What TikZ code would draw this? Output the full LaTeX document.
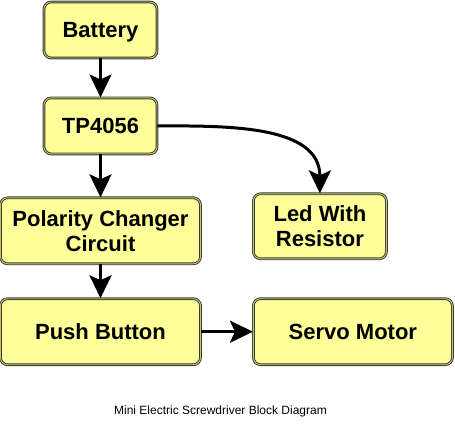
\documentclass[tikz,border=0pt]{standalone}
\usepackage{fontspec}
\setmainfont{Liberation Sans}
\usetikzlibrary{arrows.meta, calc, positioning}
\definecolor{boxfill}{HTML}{FFFF99}
\definecolor{boxline}{HTML}{36393D}
\definecolor{boxdouble}{HTML}{C8C860}

\begin{document}
\begin{tikzpicture}[auto,
node distance = 39pt and 52pt,
every node/.style = {draw=boxline, double=boxdouble, double distance=0.9pt,
                     line width=0.9pt, fill=boxfill, rounded corners=2.5mm,
                     inner sep=0pt, align=center, text depth=0pt,
                     font=\fontsize{22}{25}\selectfont\bfseries},
small/.style  = {minimum width=113pt, minimum height=56pt},
wide/.style   = {minimum width=200pt, minimum height=66pt},
arr/.style    = {draw, line width=3pt,
                 -{Stealth[length=23pt, width=22pt, inset=5pt]}},
                    ]
\useasboundingbox (0,0) rectangle (455pt,-431pt);
%-------
\node (battery)  [small] at (100.5pt,-30pt)     {Battery};
\node (tp)       [small, below=of battery]      {TP4056};
\node (polarity) [wide, below=43pt of tp]       {Polarity Changer\\Circuit};
\node (push)     [wide, below=34pt of polarity] {Push Button};
%
\node (servo)    [wide, minimum width=199pt, right=of push] {Servo Motor};
\node (led)      [above=of servo.north west, anchor=south west,
                  minimum width=133pt, minimum height=65pt]  {Led With\\Resistor};
%
\node[draw=none, fill=none, font=\fontsize{12}{14}\selectfont]
        at (220.5pt,-410pt) {Mini Electric Screwdriver Block Diagram};
% edges
\path[arr]
        (battery)   edge (tp)
        (tp)        edge (polarity)
        (polarity)  edge (push)
        (push)      edge (servo);
\draw[arr] (tp.east) to[out=0, in=90] (led.north);
\end{tikzpicture}
\end{document}
